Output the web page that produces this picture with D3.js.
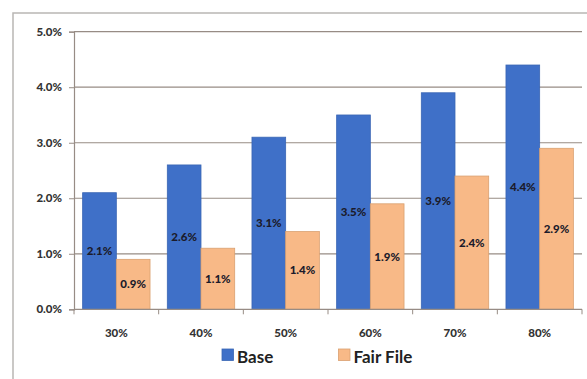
<!DOCTYPE html>
<html>
<head>
<meta charset="utf-8">
<script src="https://cdn.jsdelivr.net/npm/d3@7"></script>
<style>
  html, body { margin: 0; padding: 0; background: #fff; }
  svg { display: block; }
  text { font-family: Lato, "Open Sans", sans-serif; font-weight: 700; }
</style>
</head>
<body>
<svg id="chart" width="587" height="379"></svg>
<script>
// Scenario labels along the x axis
const categories = ["30%", "40%", "50%", "60%", "70%", "80%"];
// Series values, in percent
const baseValues = [2.1, 2.6, 3.1, 3.5, 3.9, 4.4];
const fairFileValues = [0.9, 1.1, 1.4, 1.9, 2.4, 2.9];
const seriesNames = ["Base", "Fair File"];
// Y axis tick values, in percent
const yTicks = [0, 1, 2, 3, 4, 5];

const seriesColors = ["#3f70c8", "#f8b987"];
const seriesStroke = ["#3a66b4", "#d9a070"];

const svg = d3.select("#chart");
const W = 587, H = 379;

// Outer chart frame (right and bottom run past the picture edge)
svg.append("rect")
  .attr("x", 13).attr("y", 13)
  .attr("width", 620).attr("height", 420)
  .attr("fill", "none")
  .attr("stroke", "#b9b6b4")
  .attr("stroke-width", 1.5);

const plot = { left: 74, right: 582, top: 31.7, bottom: 309.3 };

const x0 = d3.scaleBand()
  .domain(categories)
  .range([plot.left, plot.right])
  .paddingInner(0.204)
  .paddingOuter(0.102);

const x1 = d3.scaleBand()
  .domain(seriesNames)
  .range([0, x0.bandwidth()]);

const y = d3.scaleLinear()
  .domain([0, 5])
  .range([plot.bottom, plot.top]);

const gridColor = "#978c85";

// Horizontal gridlines
svg.append("g")
  .selectAll("line")
  .data(yTicks.filter(d => d > 0))
  .join("line")
  .attr("x1", plot.left).attr("x2", plot.right)
  .attr("y1", d => y(d)).attr("y2", d => y(d))
  .attr("stroke", gridColor)
  .attr("stroke-width", 1.2);

// Y axis
const yAxis = svg.append("g")
  .attr("transform", `translate(${plot.left},0)`)
  .call(d3.axisLeft(y).tickValues(yTicks).tickSize(5).tickPadding(7)
    .tickFormat(d => d.toFixed(1) + "%"));
yAxis.select(".domain").attr("stroke", gridColor).attr("stroke-width", 1.2);
yAxis.selectAll(".tick line").attr("stroke", gridColor);
yAxis.selectAll(".tick text")
  .attr("fill", "#333")
  .style("font-size", "11.5px")
  .style("font-weight", 900);

// Bars
const rows = categories.map((c, i) => ({
  cat: c,
  vals: [baseValues[i], fairFileValues[i]]
}));

const groups = svg.append("g")
  .selectAll("g")
  .data(rows)
  .join("g")
  .attr("transform", d => `translate(${x0(d.cat)},0)`);

groups.selectAll("rect")
  .data(d => d.vals.map((v, k) => ({ v, k })))
  .join("rect")
  .attr("x", d => x1(seriesNames[d.k]))
  .attr("y", d => y(d.v))
  .attr("width", x1.bandwidth())
  .attr("height", d => y(0) - y(d.v))
  .attr("fill", d => seriesColors[d.k])
  .attr("stroke", d => seriesStroke[d.k])
  .attr("stroke-width", 0.8);

// Value labels centred in each bar
groups.selectAll("text")
  .data(d => d.vals.map((v, k) => ({ v, k })))
  .join("text")
  .attr("x", d => x1(seriesNames[d.k]) + x1.bandwidth() / 2)
  .attr("y", d => (y(d.v) + y(0)) / 2)
  .attr("dy", "0.35em")
  .attr("text-anchor", "middle")
  .attr("fill", "#1b1b2b")
  .style("font-size", "11.5px")
  .style("font-weight", 900)
  .text(d => d.v.toFixed(1) + "%");

// X axis line with tick marks at category boundaries
svg.append("line")
  .attr("x1", plot.left).attr("x2", plot.right)
  .attr("y1", plot.bottom).attr("y2", plot.bottom)
  .attr("stroke", gridColor)
  .attr("stroke-width", 1.2);

const step = x0.step();
const boundaries = d3.range(categories.length + 1).map(i => plot.left + i * step);
svg.append("g")
  .selectAll("line")
  .data(boundaries)
  .join("line")
  .attr("x1", d => d).attr("x2", d => d)
  .attr("y1", plot.bottom).attr("y2", plot.bottom + 5)
  .attr("stroke", gridColor);

// Category labels
svg.append("g")
  .selectAll("text")
  .data(categories)
  .join("text")
  .attr("x", d => x0(d) + x0.bandwidth() / 2)
  .attr("y", 333)
  .attr("dy", "0.35em")
  .attr("text-anchor", "middle")
  .attr("fill", "#333")
  .style("font-size", "11.5px")
  .style("font-weight", 900)
  .text(d => d);

// Legend
const legendItems = [
  { name: seriesNames[0], x: 222 },
  { name: seriesNames[1], x: 338.5 }
];
const legend = svg.append("g")
  .selectAll("g")
  .data(legendItems)
  .join("g")
  .attr("transform", d => `translate(${d.x},349)`);
legend.append("rect")
  .attr("width", 11.5).attr("height", 11.5)
  .attr("fill", (d, i) => seriesColors[i])
  .attr("stroke", (d, i) => seriesStroke[i])
  .attr("stroke-width", 0.8);
legend.append("text")
  .attr("x", 15)
  .attr("y", 8)
  .attr("dy", "0.35em")
  .attr("fill", "#222")
  .style("font-size", "17px")
  .style("font-weight", 700)
  .text(d => d.name);
</script>
</body>
</html>
